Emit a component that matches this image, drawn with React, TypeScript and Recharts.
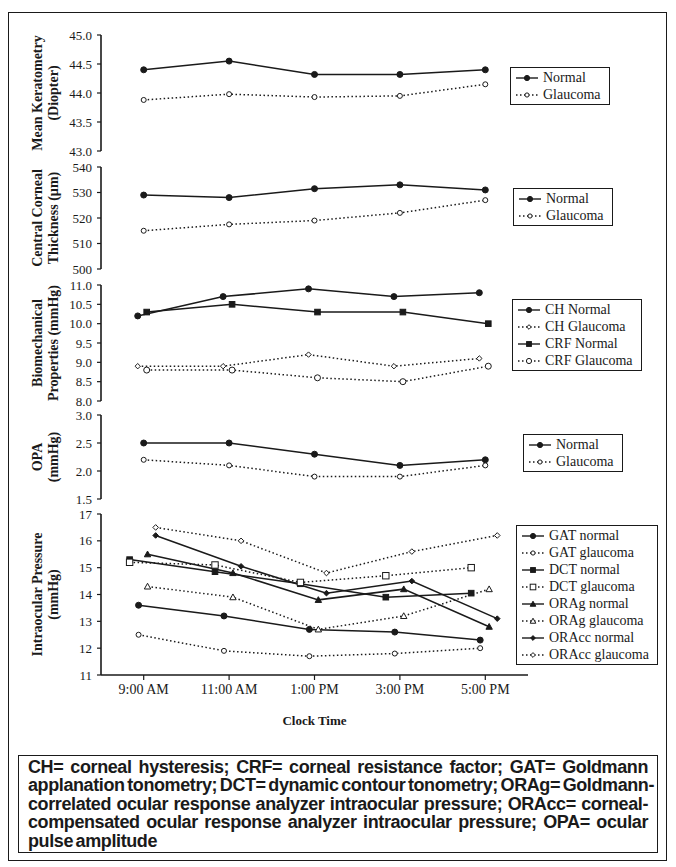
import React from "react";
import { LineChart, Line, XAxis, YAxis, Legend } from "recharts";

// clock times shared by every panel
const times = ["9:00 AM", "11:00 AM", "1:00 PM", "3:00 PM", "5:00 PM"];
const hours = [9, 11, 13, 15, 17];

// mean keratometry (D)
const kerNormal = [44.4, 44.55, 44.32, 44.32, 44.4];
const kerGlaucoma = [43.88, 43.98, 43.93, 43.95, 44.15];

// central corneal thickness (µm)
const cctNormal = [529, 528, 531.5, 533, 531];
const cctGlaucoma = [515, 517.5, 519, 522, 527];

// biomechanical properties (mmHg)
const chNormal = [10.2, 10.7, 10.9, 10.7, 10.8];
const chGlaucoma = [8.9, 8.9, 9.2, 8.9, 9.1];
const crfNormal = [10.3, 10.5, 10.3, 10.3, 10.0];
const crfGlaucoma = [8.8, 8.8, 8.6, 8.5, 8.9];

// ocular pulse amplitude (mmHg)
const opaNormal = [2.5, 2.5, 2.3, 2.1, 2.2];
const opaGlaucoma = [2.2, 2.1, 1.9, 1.9, 2.1];

// intraocular pressure (mmHg)
const gatNormal = [13.6, 13.2, 12.7, 12.6, 12.3];
const gatGlaucoma = [12.5, 11.9, 11.7, 11.8, 12.0];
const dctNormal = [15.3, 14.85, 14.4, 13.9, 14.05];
const dctGlaucoma = [15.2, 15.1, 14.45, 14.7, 15.0];
const oragNormal = [15.5, 14.8, 13.8, 14.2, 12.8];
const oragGlaucoma = [14.3, 13.9, 12.7, 13.2, 14.2];
const oraccNormal = [16.2, 15.05, 14.05, 14.5, 13.1];
const oraccGlaucoma = [16.5, 16.0, 14.8, 15.6, 16.2];

// y tick values per panel
const kerTicks = [43, 43.5, 44, 44.5, 45];
const cctTicks = [500, 510, 520, 530, 540];
const bioTicks = [8, 8.5, 9, 9.5, 10, 10.5, 11];
const opaTicks = [1.5, 2, 2.5, 3];
const iopTicks = [11, 12, 13, 14, 15, 16, 17];

// the source plot nudges each method sideways (hours) so markers don't overlap
const bioShift = { ch: -0.14, crf: 0.07 };
const iopShift = { dct: -0.33, gat: -0.12, orag: 0.09, oracc: 0.28 };

type Shape = "circle" | "square" | "triangle" | "diamond";
type Series = {
  name: string;
  values: number[];
  shape: Shape;
  filled: boolean;
  dashed: boolean;
  shift?: number;
  size?: number;
};

const INK = "#1a1a1a";
const SERIF = "'Liberation Serif', 'Times New Roman', serif";

const toPoints = (s: Series) =>
  hours.map((h, i) => ({ x: h + (s.shift || 0), y: s.values[i] }));

function Marker({ cx, cy, shape, filled, size = 3 }: any) {
  const fill = filled ? INK : "#fff";
  const common = { fill, stroke: INK, strokeWidth: 1 };
  if (shape === "square")
    return <rect x={cx - size} y={cy - size} width={size * 2} height={size * 2} {...common} />;
  if (shape === "triangle") {
    const s = size + 0.6;
    return <polygon points={`${cx},${cy - s} ${cx + s},${cy + s * 0.8} ${cx - s},${cy + s * 0.8}`} {...common} />;
  }
  if (shape === "diamond") {
    const s = size + 0.4;
    return <polygon points={`${cx},${cy - s} ${cx + s},${cy} ${cx},${cy + s} ${cx - s},${cy}`} {...common} />;
  }
  return <circle cx={cx} cy={cy} r={size} {...common} />;
}

function AxisTitle({ viewBox, lines }: any) {
  const cy = viewBox.y + viewBox.height / 2;
  const xs = [37, 53];
  return (
    <g>
      {lines.map((t: string, i: number) => (
        <text
          key={t}
          x={xs[i]}
          y={cy}
          transform={`rotate(-90, ${xs[i]}, ${cy})`}
          textAnchor="middle"
          dominantBaseline="central"
          fontFamily={SERIF}
          fontWeight="bold"
          fontSize={14}
          fill={INK}
        >
          {t}
        </text>
      ))}
    </g>
  );
}

function ClockTitle({ viewBox }: any) {
  return (
    <text
      x={viewBox.x + viewBox.width / 2}
      y={viewBox.y + 50}
      textAnchor="middle"
      fontFamily={SERIF}
      fontWeight="bold"
      fontSize={13}
      fill={INK}
    >
      Clock Time
    </text>
  );
}

function LegendBox({ items }: { items: Series[] }) {
  return (
    <div
      style={{
        border: `1.5px solid ${INK}`,
        background: "#fff",
        padding: "1px 8px 1px 4px",
        fontFamily: SERIF,
        fontSize: 14,
        color: INK,
        whiteSpace: "nowrap",
      }}
    >
      {items.map((s) => (
        <div key={s.name} style={{ display: "flex", alignItems: "center", height: 17 }}>
          <svg width={24} height={12}>
            <line
              x1={1}
              y1={6}
              x2={23}
              y2={6}
              stroke={INK}
              strokeWidth={1.4}
              strokeDasharray={s.dashed ? "1.5 2.5" : undefined}
            />
            <Marker cx={12} cy={6} shape={s.shape} filled={s.filled} size={(s.size || 3) - 0.4} />
          </svg>
          <span style={{ marginLeft: 4 }}>{s.name}</span>
        </div>
      ))}
    </div>
  );
}

type PanelProps = {
  top: number;
  bottom: number;
  domain: [number, number];
  ticks: number[];
  digits: number;
  title: string[];
  series: Series[];
  legendAt: { left: number; top: number };
  showX?: boolean;
};

function Panel({ top, bottom, domain, ticks, digits, title, series, legendAt, showX }: PanelProps) {
  const xHeight = 60;
  return (
    <div style={{ position: "absolute", left: 0, top: 0 }}>
      <LineChart
        width={676}
        height={867}
        margin={{ top, right: 148, left: 51, bottom: showX ? 867 - bottom - xHeight : 867 - bottom }}
      >
        <XAxis
          type="number"
          dataKey="x"
          domain={[8, 18]}
          ticks={hours}
          hide={!showX}
          height={xHeight}
          tickFormatter={(v: number) => times[hours.indexOf(v)]}
          axisLine={{ stroke: INK, strokeWidth: 1.6 }}
          tickLine={{ stroke: INK, strokeWidth: 1.2 }}
          tickSize={5}
          tickMargin={4}
          tick={{ fill: INK, fontFamily: SERIF, fontSize: 14 }}
          label={<ClockTitle />}
        />
        <YAxis
          type="number"
          width={50}
          domain={domain}
          ticks={ticks}
          interval={0}
          tickFormatter={(v: number) => v.toFixed(digits)}
          axisLine={{ stroke: INK, strokeWidth: 1.6 }}
          tickLine={{ stroke: INK, strokeWidth: 1.2 }}
          tickSize={4}
          tickMargin={5}
          tick={{ fill: INK, fontFamily: SERIF, fontSize: 13 }}
          label={<AxisTitle lines={title} />}
        />
        {series.map((s) => (
          <Line
            key={s.name}
            data={toPoints(s)}
            dataKey="y"
            name={s.name}
            type="linear"
            stroke={INK}
            strokeWidth={1.5}
            strokeDasharray={s.dashed ? "1.5 2.5" : undefined}
            isAnimationActive={false}
            activeDot={false}
            dot={(p: any) => (
              <Marker
                key={`${s.name}-${p.index}`}
                cx={p.cx}
                cy={p.cy}
                shape={s.shape}
                filled={s.filled}
                size={s.size || 3}
              />
            )}
          />
        ))}
        <Legend
          layout="vertical"
          align="center"
          verticalAlign="middle"
          wrapperStyle={{ left: legendAt.left, top: legendAt.top, width: "auto" }}
          content={() => <LegendBox items={series} />}
        />
      </LineChart>
    </div>
  );
}

const kerSeries: Series[] = [
  { name: "Normal", values: kerNormal, shape: "circle", filled: true, dashed: false },
  { name: "Glaucoma", values: kerGlaucoma, shape: "circle", filled: false, dashed: true, size: 2.5 },
];
const cctSeries: Series[] = [
  { name: "Normal", values: cctNormal, shape: "circle", filled: true, dashed: false },
  { name: "Glaucoma", values: cctGlaucoma, shape: "circle", filled: false, dashed: true, size: 2.5 },
];
const bioSeries: Series[] = [
  { name: "CH Normal", values: chNormal, shape: "circle", filled: true, dashed: false, shift: bioShift.ch },
  { name: "CH Glaucoma", values: chGlaucoma, shape: "diamond", filled: false, dashed: true, shift: bioShift.ch, size: 2.3 },
  { name: "CRF Normal", values: crfNormal, shape: "square", filled: true, dashed: false, shift: bioShift.crf, size: 2.8 },
  { name: "CRF Glaucoma", values: crfGlaucoma, shape: "circle", filled: false, dashed: true, shift: bioShift.crf },
];
const opaSeries: Series[] = [
  { name: "Normal", values: opaNormal, shape: "circle", filled: true, dashed: false },
  { name: "Glaucoma", values: opaGlaucoma, shape: "circle", filled: false, dashed: true, size: 2.5 },
];
const iopSeries: Series[] = [
  { name: "GAT normal", values: gatNormal, shape: "circle", filled: true, dashed: false, shift: iopShift.gat },
  { name: "GAT glaucoma", values: gatGlaucoma, shape: "circle", filled: false, dashed: true, shift: iopShift.gat, size: 2.5 },
  { name: "DCT normal", values: dctNormal, shape: "square", filled: true, dashed: false, shift: iopShift.dct, size: 2.8 },
  { name: "DCT glaucoma", values: dctGlaucoma, shape: "square", filled: false, dashed: true, shift: iopShift.dct, size: 3.2 },
  { name: "ORAg normal", values: oragNormal, shape: "triangle", filled: true, dashed: false, shift: iopShift.orag, size: 2.6 },
  { name: "ORAg glaucoma", values: oragGlaucoma, shape: "triangle", filled: false, dashed: true, shift: iopShift.orag, size: 2.6 },
  { name: "ORAcc normal", values: oraccNormal, shape: "diamond", filled: true, dashed: false, shift: iopShift.oracc, size: 2.4 },
  { name: "ORAcc glaucoma", values: oraccGlaucoma, shape: "diamond", filled: false, dashed: true, shift: iopShift.oracc, size: 2.4 },
];

const captionLines = [
  "CH= corneal hysteresis; CRF= corneal resistance factor; GAT= Goldmann",
  "applanation tonometry; DCT= dynamic contour tonometry; ORAg= Goldmann-",
  "correlated ocular response analyzer intraocular pressure; ORAcc= corneal-",
  "compensated ocular response analyzer intraocular pressure; OPA= ocular",
  "pulse amplitude",
];

export default function App() {
  return (
    <div style={{ position: "absolute", left: 0, top: 0, width: 676, height: 867, background: "#fff" }}>
      <div
        style={{
          position: "absolute",
          left: 8,
          top: 12,
          width: 659,
          height: 849,
          border: `1.5px solid ${INK}`,
          boxSizing: "border-box",
        }}
      />
      <Panel top={35} bottom={151} domain={[43, 45]} ticks={kerTicks} digits={1}
        title={["Mean Keratometry", "(Diopter)"]} series={kerSeries} legendAt={{ left: 510, top: 67 }} />
      <Panel top={167} bottom={269} domain={[500, 540]} ticks={cctTicks} digits={0}
        title={["Central Corneal", "Thickness (µm)"]} series={cctSeries} legendAt={{ left: 513, top: 188 }} />
      <Panel top={285} bottom={401} domain={[8, 11]} ticks={bioTicks} digits={1}
        title={["Biomechanical", "Properties (mmHg)"]} series={bioSeries} legendAt={{ left: 512, top: 299 }} />
      <Panel top={415} bottom={499} domain={[1.5, 3]} ticks={opaTicks} digits={1}
        title={["OPA", "(mmHg)"]} series={opaSeries} legendAt={{ left: 523, top: 434 }} />
      <Panel top={514} bottom={675} domain={[11, 17]} ticks={iopTicks} digits={0}
        title={["Intraocular Pressure", "(mmHg)"]} series={iopSeries} legendAt={{ left: 516, top: 525 }} showX />
      <div
        style={{
          position: "absolute",
          left: 18,
          top: 755,
          width: 640,
          height: 98,
          border: `1.5px solid ${INK}`,
          boxSizing: "border-box",
          padding: "2px 9px",
          fontFamily: "'Liberation Sans', Arial, sans-serif",
          fontWeight: "bold",
          fontSize: 18,
          lineHeight: "18.4px",
          color: INK,
          letterSpacing: -0.4,
          wordSpacing: -2,
        }}
      >
        {captionLines.map((t, i) => (
          <div
            key={i}
            style={{
              textAlign: "justify",
              textAlignLast: i < captionLines.length - 1 ? "justify" : "left",
              whiteSpace: "nowrap",
            }}
          >
            {t}
          </div>
        ))}
      </div>
    </div>
  );
}
